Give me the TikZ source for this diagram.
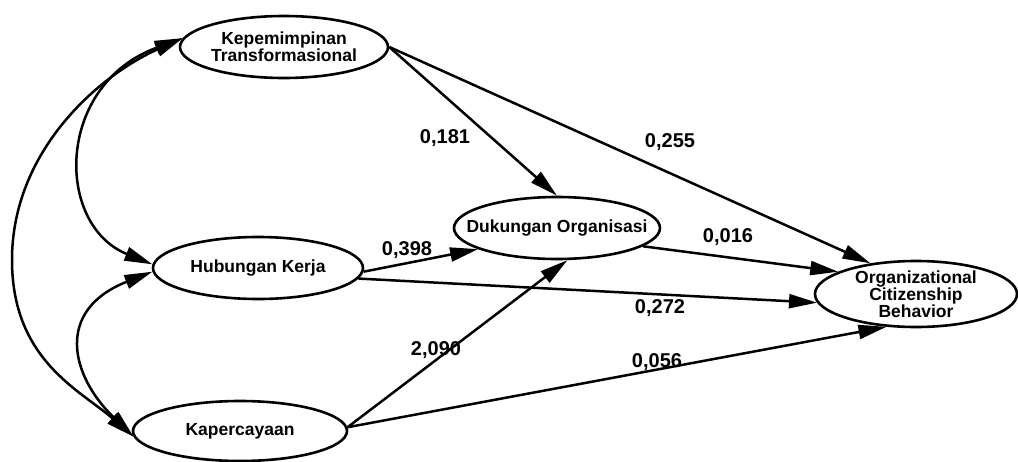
\documentclass[tikz,border=0pt]{standalone}
\usepackage{fontspec}
\setmainfont{Liberation Sans}
\usetikzlibrary{arrows.meta,shapes.geometric}
\begin{document}
\begin{tikzpicture}[x=1pt,y=-1pt,
  latent/.style={draw, ellipse, line width=2.6pt, inner sep=0pt},
  vname/.style={font=\fontsize{17.5}{17}\selectfont\bfseries, align=center, inner sep=0pt},
  tip/.style={Triangle[length=28pt,width=14pt]},
  arr/.style={line width=2.5pt, -{Triangle[length=28pt,width=14pt]}},
  covarr/.style={line width=2.5pt, {Triangle[length=28pt,width=14pt]}-{Triangle[length=28pt,width=14pt]}},
  coef/.style={font=\fontsize{20}{20}\selectfont\bfseries, inner sep=0pt}]
\useasboundingbox (0,0) rectangle (1018,461);

% latent variables
\node[latent, minimum width=208pt, minimum height=62pt,
      label={[vname]center:{Kepemimpinan\\Transformasional}}] (KT) at (284,47) {};
\node[latent, minimum width=210pt, minimum height=62pt,
      label={[vname]center:Hubungan Kerja}] (HK) at (258,268) {};
\node[latent, minimum width=214pt, minimum height=60pt,
      label={[vname]center:Kapercayaan}] (KP) at (240,431) {};
\node[latent, minimum width=206pt, minimum height=62pt,
      label={[vname]center:Dukungan Organisasi}] (DO) at (557,228) {};
\node[latent, minimum width=202pt, minimum height=66pt,
      label={[vname]center:{Organizational\\Citizenship\\Behavior}}] (OCB) at (916,294) {};

% structural paths
\draw[arr] (KT.east) -- (DO.north);
\draw[arr] (KT.east) -- (OCB.146);
\draw[arr] (HK.-2) -- (DO.195);
\draw[arr] (HK.-6) -- (OCB.185);
\draw[arr] (KP.2) -- (DO.-72);
\draw[arr] (KP.2) -- (OCB.-132);
\draw[arr] (DO.-12) -- (OCB.164);

% correlations between exogenous variables
\draw[covarr] (KT.175) .. controls (55,85) and (55,225) .. (HK.178);
\draw[covarr] (HK.182) .. controls (55,310) and (70,375) .. (KP.183);
\draw[covarr] (KT.175) .. controls (100,75) and (12,150) .. (12,260)
              .. controls (12,360) and (80,390) .. (KP.183);

% path coefficients
\node[coef] (c181) at (445,138) {0,181};
\node[coef] (c255) at (670,142) {0,255};
\node[coef] (c398) at (407,250) {0,398};
\node[coef] (c016) at (728,237) {0,016};
\node[coef] (c272) at (660,308) {0,272};
\node[coef] (c090) at (436,350) {2,090};
\node[coef] (c056) at (657,362) {0,056};
\end{tikzpicture}
\end{document}
